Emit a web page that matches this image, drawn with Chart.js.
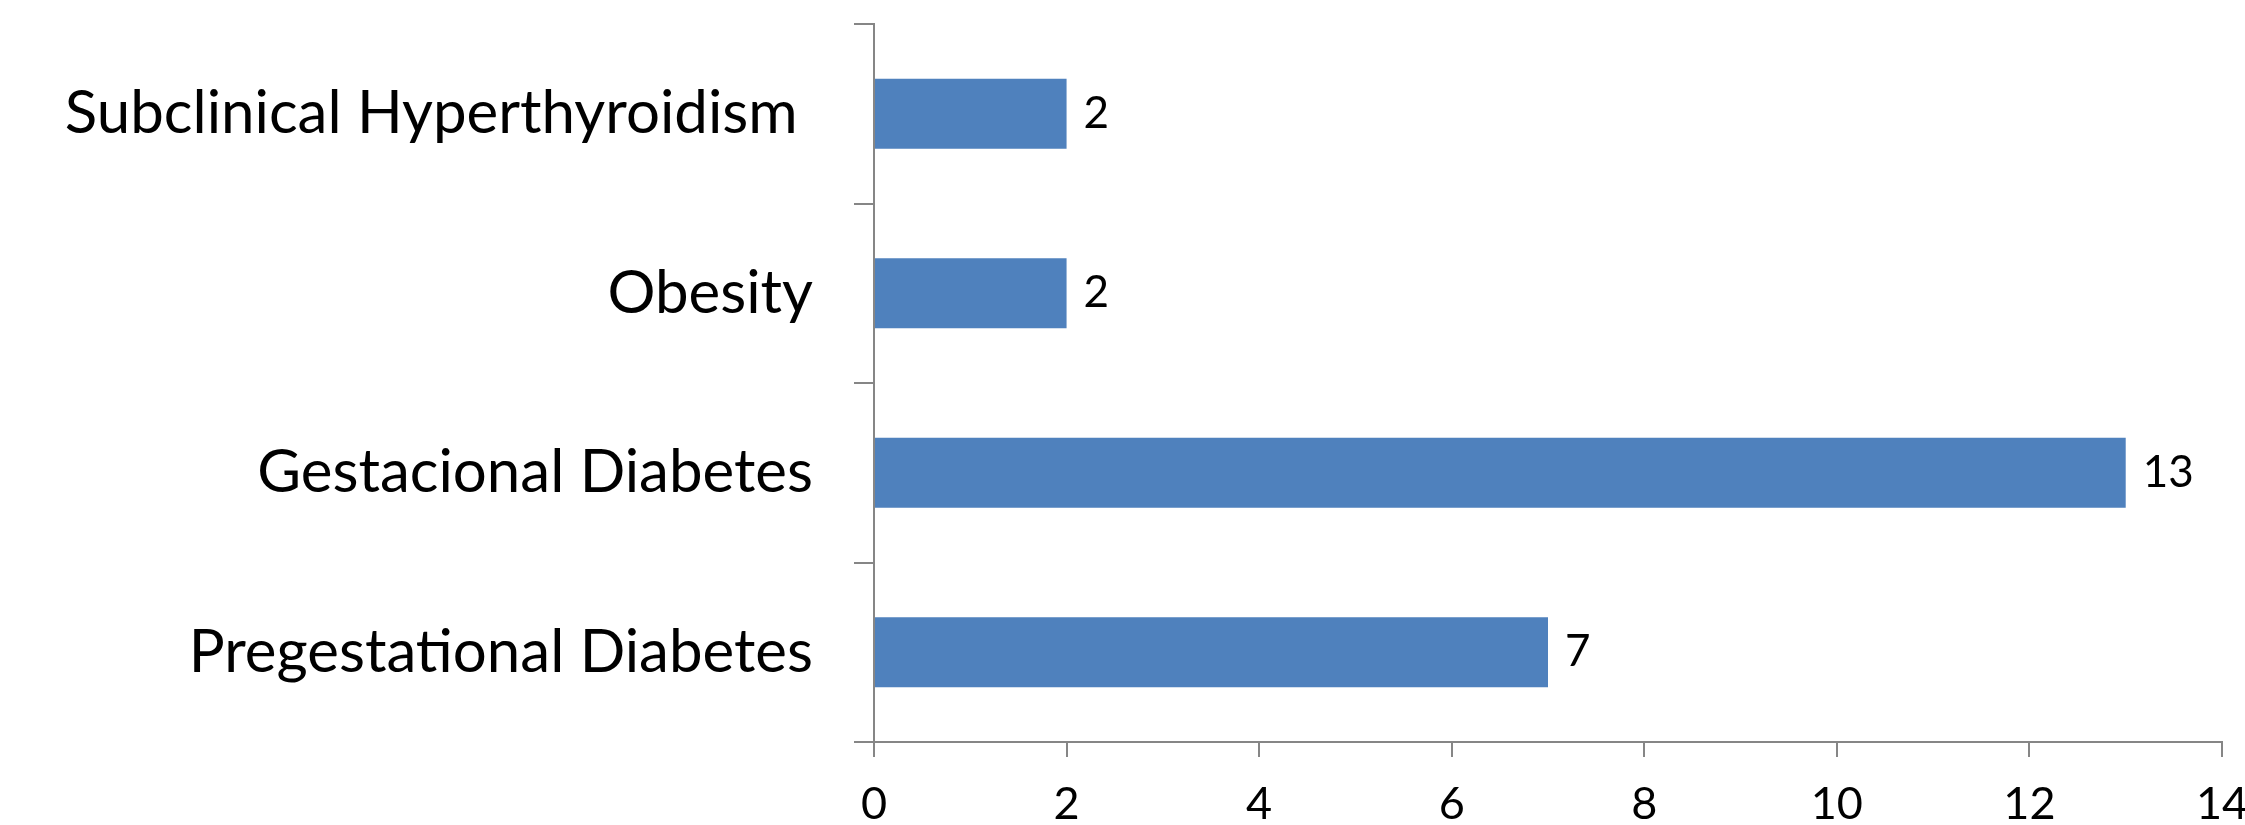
<!DOCTYPE html>
<html>
<head>
<meta charset="utf-8">
<script src="https://cdn.jsdelivr.net/npm/chart.js@4/dist/chart.umd.min.js"></script>
<style>
  html, body { margin: 0; padding: 0; background: #fff; }
  canvas { display: block; }
</style>
</head>
<body>
<canvas id="chart1" width="2245" height="825"></canvas>
<script>
const conditions = ['Subclinical Hyperthyroidism ', 'Obesity', 'Gestacional Diabetes', 'Pregestational Diabetes']
const cases = [2, 2, 13, 7]
const xTicks = [0, 2, 4, 6, 8, 10, 12, 14]

const axisColor = '#868686'

Chart.defaults.font.family = 'Lato'
Chart.defaults.color = '#000'

// draws the value next to the end of every bar
const barValues = {
    id: 'barValues',
    afterDatasetsDraw(chart) {
        const ctx = chart.ctx
        ctx.save()
        ctx.font = '44px Lato'
        ctx.fillStyle = '#000'
        ctx.textAlign = 'left'
        ctx.textBaseline = 'middle'
        chart.getDatasetMeta(0).data.forEach((bar, i) => {
            ctx.fillText(cases[i], bar.x + 17, bar.y)
        })
        ctx.restore()
    }
}

const data = {
    labels: conditions,
    datasets: [{
        data: cases,
        backgroundColor: '#4F81BD',
        borderWidth: 0,
        categoryPercentage: 1,
        barPercentage: 0.39
    }]
}

const options = {
    indexAxis: 'y',
    responsive: false,
    animation: false,
    layout: { padding: { left: 0, right: 23, top: 24, bottom: 0 } },
    plugins: {
        legend: { display: false },
        tooltip: { enabled: false }
    },
    scales: {
        x: {
            min: 0,
            max: 14,
            afterBuildTicks: scale => { scale.ticks = xTicks.map(v => ({ value: v })) },
            afterFit: scale => {
                scale.height = 83
                scale.paddingLeft = 0
                scale.paddingRight = 0
            },
            border: { color: axisColor, width: 2 },
            grid: { drawOnChartArea: false, color: axisColor, lineWidth: 2, tickLength: 15 },
            ticks: { font: { size: 45 }, padding: 20, maxRotation: 0 }
        },
        y: {
            afterFit: scale => {
                scale.width = 874
                scale.paddingTop = 0
                scale.paddingBottom = 0
            },
            border: { color: axisColor, width: 2 },
            grid: { drawOnChartArea: false, offset: true, color: axisColor, lineWidth: 2, tickLength: 20 },
            ticks: { font: { size: 60 }, padding: 41 }
        }
    }
}

new Chart('chart1', { type: 'bar', data, options, plugins: [barValues] })
</script>
</body>
</html>
